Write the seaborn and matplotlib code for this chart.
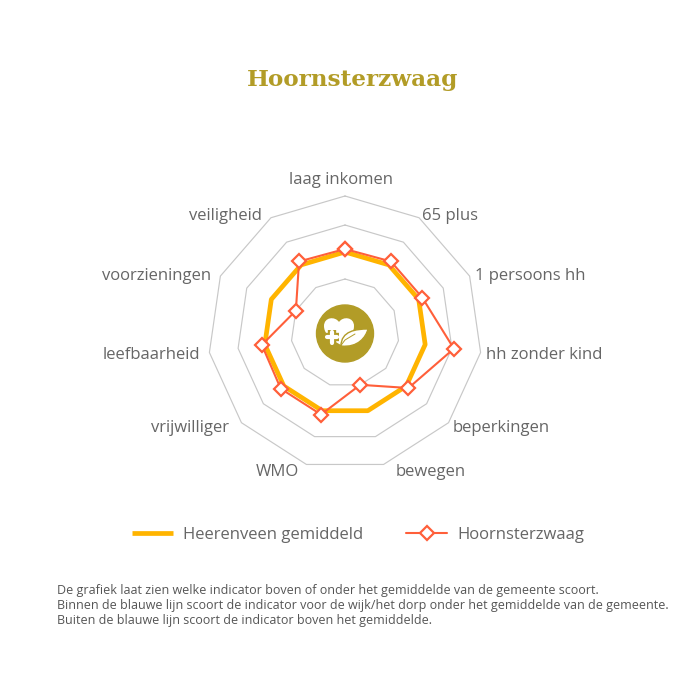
import numpy as np
import pandas as pd
import matplotlib
matplotlib.use('Agg')
import matplotlib.pyplot as plt
from matplotlib.patches import Circle, PathPatch
from matplotlib.path import Path
import seaborn as sns

# Gegevens
indicatoren = ['laag inkomen', '65 plus', '1 persoons hh', 'hh zonder kind', 'beperkingen', 'bewegen',
               'WMO', 'vrijwilliger', 'leefbaarheid', 'voorzieningen', 'veiligheid']
gemiddeld = [81, 81, 81, 81, 81, 81, 81, 81, 81, 81, 81]
hoornsterzwaag = [84, 85, 85, 110, 84, 54, 85, 85, 84, 54, 85]
ringen = [54, 108, 137]

titel = 'Hoornsterzwaag'
voetnoot = ['De grafiek laat zien welke indicator boven of onder het gemiddelde van de gemeente scoort.',
            'Binnen de blauwe lijn scoort de indicator voor de wijk/het dorp onder het gemiddelde van de gemeente.',
            'Buiten de blauwe lijn scoort de indicator boven het gemiddelde.']

# label positie in pixels (midden van de tekst)
label_pos = [(341, 180), (450, 216), (530, 276), (544, 355), (501, 428), (431, 472),
             (277, 472), (190, 428), (151, 355), (157, 276), (225, 216)]

sns.set_theme(style='white')
plt.rcParams['font.family'] = ['Open Sans', 'DejaVu Sans']

GOUD = '#B29C27'
GEEL = '#FFB400'
ROOD = '#FF5F3A'
GRIJS = '#666666'

fig = plt.figure(figsize=(6.8, 6.8), dpi=100)
ax = fig.add_axes([208 / 680, (680 - 333 - 137) / 680, 274 / 680, 274 / 680], projection='polar')
ax.set_theta_zero_location('N')
ax.set_theta_direction(-1)

hoeken = np.linspace(0, 2 * np.pi, len(indicatoren), endpoint=False)
hoeken_dicht = np.append(hoeken, hoeken[0])

# polygoon ringen
for r in ringen:
    ax.plot(hoeken_dicht, [r] * len(hoeken_dicht), color='#C8C8C8', lw=0.85, clip_on=False, zorder=1)

df = pd.DataFrame({'hoek': hoeken_dicht,
                   'gem': gemiddeld + gemiddeld[:1],
                   'hoorn': hoornsterzwaag + hoornsterzwaag[:1]})

# estimator=None anders worden eerste en laatste punt samengevoegd
sns.lineplot(data=df, x='hoek', y='gem', sort=False, estimator=None, color=GEEL, lw=3.4, ax=ax, zorder=2,
             label='Heerenveen gemiddeld', clip_on=False, solid_capstyle='butt')
sns.lineplot(data=df, x='hoek', y='hoorn', sort=False, estimator=None, color=ROOD, lw=1.5, marker='D', ms=6.8,
             markerfacecolor='white', markeredgecolor=ROOD, markeredgewidth=1.6, ax=ax, zorder=3,
             label=titel, clip_on=False)
ax.set_ylim(0, 137)
handles, labels = ax.get_legend_handles_labels()
ax.get_legend().remove()
ax.axis('off')

# overlay in pixels voor teksten en icoon
ov = fig.add_axes([0, 0, 1, 1], facecolor='none')
ov.set_xlim(0, 680)
ov.set_ylim(680, 0)
ov.axis('off')

ov.text(353, 80, titel, ha='center', va='center', fontsize=16.7, fontweight='bold',
        family='DejaVu Serif', color=GOUD)

for naam, (x, y) in zip(indicatoren, label_pos):
    ov.text(x, y, naam, ha='center', va='center', fontsize=12, color=GRIJS)

for i, regel in enumerate(voetnoot):
    ov.text(57, 590.5 + i * 15, regel, ha='left', va='center', fontsize=8.97, color='#555555')

# icoon: gouden cirkel met hart, plus en blad
ov.add_patch(Circle((345, 333.5), 28.5, color=GOUD, zorder=5))
hart = Path([(341, 345), (328, 338), (324, 332), (324, 326), (324, 317), (335, 316), (339, 322),
             (343, 316), (354, 317), (354, 326), (354, 332), (350, 339), (341, 345), (341, 345)],
            [Path.MOVETO, Path.CURVE4, Path.CURVE4, Path.CURVE4, Path.CURVE4, Path.CURVE4, Path.CURVE4,
             Path.CURVE4, Path.CURVE4, Path.CURVE4, Path.CURVE4, Path.CURVE4, Path.CURVE4, Path.CLOSEPOLY])
ov.add_patch(PathPatch(hart, fc='white', ec='none', zorder=6))
ov.plot([324, 339], [337, 337], color=GOUD, lw=6, solid_capstyle='butt', zorder=7)
ov.plot([331.5, 331.5], [330, 345], color=GOUD, lw=6, solid_capstyle='butt', zorder=7)
ov.plot([326.5, 336.5], [337, 337], color='white', lw=3, solid_capstyle='round', zorder=8)
ov.plot([331.5, 331.5], [332, 343], color='white', lw=3, solid_capstyle='round', zorder=8)
blad = Path([(341, 346), (341, 331), (356, 329), (368, 329), (366, 337), (358, 348), (341, 346), (341, 346)],
            [Path.MOVETO, Path.CURVE4, Path.CURVE4, Path.CURVE4, Path.CURVE4, Path.CURVE4, Path.CURVE4, Path.CLOSEPOLY])
ov.add_patch(PathPatch(blad, fc='white', ec=GOUD, lw=1.0, zorder=9))
ov.plot([339, 345, 355], [348, 340, 334], color=GOUD, lw=0.7, zorder=10)

leg = fig.legend(handles, labels, loc='center', bbox_to_anchor=(358 / 680, 1 - 535 / 680), ncol=2,
                 frameon=False, fontsize=12, labelcolor=GRIJS, handlelength=2.45, handletextpad=0.6,
                 columnspacing=2.6)

fig.savefig('out.png', dpi=100, facecolor='white')
